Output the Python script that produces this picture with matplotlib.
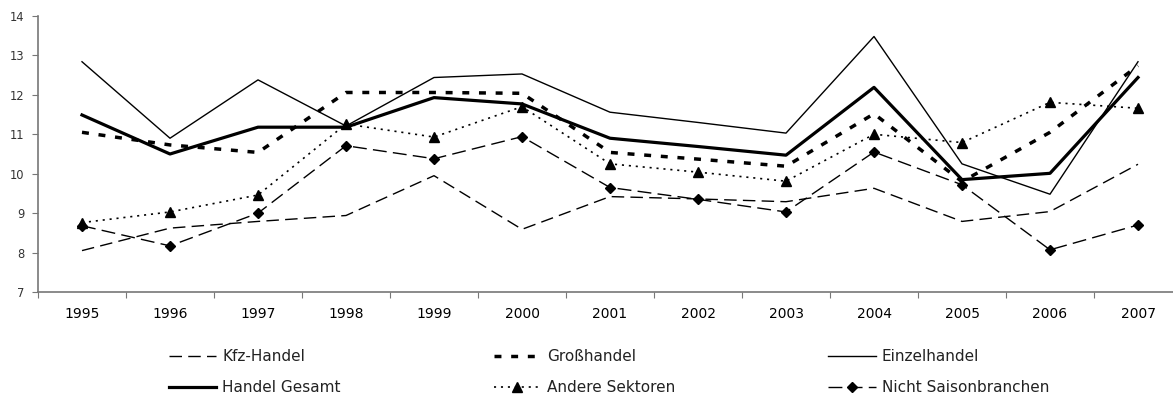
import matplotlib
matplotlib.use('Agg')
import matplotlib.pyplot as plt
import numpy as np

jahre = ['1995', '1996', '1997', '1998', '1999', '2000', '2001',
         '2002', '2003', '2004', '2005', '2006', '2007']

kfz_handel = [8.05, 8.62, 8.79, 8.94, 9.95, 8.59, 9.42, 9.36, 9.29, 9.63, 8.79, 9.04, 10.24]
grosshandel = [11.05, 10.73, 10.54, 12.06, 12.06, 12.04, 10.54, 10.37, 10.19, 11.52, 9.80, 11.05, 12.74]
einzelhandel = [12.84, 10.90, 12.38, 11.21, 12.44, 12.53, 11.56, 11.30, 11.03, 13.48, 10.25, 9.48, 12.84]
handel_gesamt = [11.49, 10.50, 11.18, 11.18, 11.93, 11.77, 10.90, 10.69, 10.47, 12.19, 9.85, 10.01, 12.44]
andere_sektoren = [8.76, 9.03, 9.46, 11.26, 10.93, 11.70, 10.25, 10.04, 9.81, 11.00, 10.79, 11.81, 11.66]
nicht_saison = [8.68, 8.17, 9.00, 10.71, 10.38, 10.94, 9.65, 9.35, 9.03, 10.55, 9.72, 8.07, 8.70]

plt.rcParams['font.family'] = ['DejaVu Sans']
plt.rcParams['lines.scale_dashes'] = False

fig = plt.figure(figsize=(11.73, 3.94), dpi=100)
ax = fig.add_axes([38 / 1173, 1 - 292 / 394, 1144 / 1173, 276 / 394])

x = np.arange(len(jahre))

ax.plot(x, kfz_handel, color='black', lw=1.0, dashes=(9, 4.5), label='Kfz-Handel')
ax.plot(x, handel_gesamt, color='black', lw=2.3, label='Handel Gesamt')
ax.plot(x, grosshandel, color='black', lw=2.5, dashes=(5, 7), label='Großhandel')
ax.plot(x, andere_sektoren, color='black', lw=1.2, dashes=(1.5, 3.5),
        marker='^', markersize=7, label='Andere Sektoren')
ax.plot(x, einzelhandel, color='black', lw=1.0, label='Einzelhandel')
ax.plot(x, nicht_saison, color='black', lw=1.0, dashes=(10, 4.5),
        marker='D', markersize=5.5, label='Nicht Saisonbranchen')

ax.set_xlim(-0.5, len(jahre) - 0.5)
ax.set_ylim(7, 14)
ax.set_yticks(range(7, 15))

# Tickstriche zwischen den Jahren, Beschriftung in der Mitte
ax.set_xticks(np.arange(-0.5, len(jahre), 1.0))
ax.set_xticklabels([])
ax.set_xticks(x, minor=True)
ax.set_xticklabels(jahre, minor=True)
ax.tick_params(axis='x', which='minor', length=0, pad=11)
ax.tick_params(axis='x', which='major', length=4, direction='out', color='#777777')
ax.tick_params(axis='y', length=4, direction='out', color='#777777', pad=6)
ax.tick_params(labelsize=8.3, labelcolor='#333333')

for s in ['top', 'right']:
    ax.spines[s].set_visible(False)
for s in ['left', 'bottom']:
    ax.spines[s].set_color('#777777')
    ax.spines[s].set_linewidth(1.2)

leg = fig.legend(loc='upper center', bbox_to_anchor=(609 / 1173, 1 - 349 / 394),
                 ncol=3, frameon=False, fontsize=11, handlelength=3.1,
                 handletextpad=0.4, columnspacing=10.0, labelspacing=1.05,
                 borderaxespad=0, borderpad=0)
for t in leg.get_texts():
    t.set_color('#222222')

fig.savefig('out.png', dpi=100)
